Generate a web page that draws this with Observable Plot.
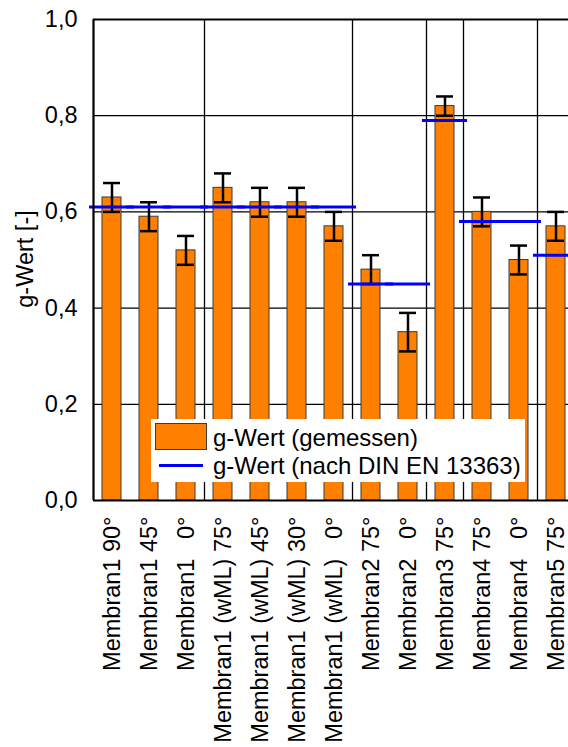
<!DOCTYPE html>
<html>
<head>
<meta charset="utf-8">
<script src="https://cdn.jsdelivr.net/npm/d3@7"></script>
<script src="https://cdn.jsdelivr.net/npm/@observablehq/plot@0.6"></script>
<style>
  html, body { margin: 0; padding: 0; background: #fff; overflow: hidden; }
  #wrap { position: relative; width: 568px; height: 747px; overflow: hidden; font-family: "Liberation Sans", Arial, sans-serif; }
  #wrap svg { color: #000; }
  #wrap svg text { white-space: pre; }
  .legend { position: absolute; left: 151px; top: 419px; width: 374px; height: 63px; background: #fff; }
  .legend .sw { position: absolute; left: 4px; top: 4px; width: 50px; height: 25px; background: #FF8000; border: 1px solid #3a3a3a; }
  .legend .ln { position: absolute; left: 8px; top: 45px; width: 44px; height: 3px; background: #0000FF; }
  .legend .t { position: absolute; left: 62px; font-size: 24px; line-height: 26px; color: #000; white-space: nowrap; }
  .ylab { position: absolute; left: 25px; top: 259px; transform: translate(-50%, -50%) rotate(-90deg); font-size: 23.5px; line-height: 26px; white-space: nowrap; color: #000; }
</style>
</head>
<body>
<div id="wrap"></div>
<script>
const categories = ["Membran1 90°", "Membran1 45°", "Membran1   0°", "Membran1 (wML) 75°", "Membran1 (wML) 45°", "Membran1 (wML) 30°", "Membran1 (wML)   0°", "Membran2 75°", "Membran2   0°", "Membran3 75°", "Membran4 75°", "Membran4   0°", "Membran5 75°"];
const measured = [0.63, 0.59, 0.52, 0.65, 0.62, 0.62, 0.57, 0.48, 0.35, 0.82, 0.60, 0.50, 0.57];
const errors   = [0.03, 0.03, 0.03, 0.03, 0.03, 0.03, 0.03, 0.03, 0.04, 0.02, 0.03, 0.03, 0.03];
const din      = [0.61, 0.61, 0.61, 0.61, 0.61, 0.61, 0.61, 0.45, 0.45, 0.79, 0.58, 0.58, 0.51];
const groupStarts = ["Membran1 (wML) 75°", "Membran2 75°", "Membran3 75°", "Membran4 75°", "Membran5 75°"];
const yTicks = [0, 0.2, 0.4, 0.6, 0.8, 1.0];
const gridTicks = [0.2, 0.4, 0.6, 0.8];
const yLabel = "g-Wert [-]";
const legendLabels = ["g-Wert (gemessen)", "g-Wert (nach DIN EN 13363)"];

const data = categories.map((c, i) => ({cat: c, val: measured[i], lo: measured[i] - errors[i], hi: measured[i] + errors[i], din: din[i]}));

const xRange = [93, 574];
const bw = (xRange[1] - xRange[0]) / categories.length;
const font = "Liberation Sans, Arial, sans-serif";

const chart = Plot.plot({
  width: 568,
  height: 747,
  marginLeft: 93,
  marginRight: 0,
  marginTop: 19,
  marginBottom: 247,
  style: {fontFamily: font, fontSize: "23.5px", color: "#000", background: "#fff"},
  x: {domain: categories, range: xRange, padding: 0},
  y: {domain: [0, 1]},
  marks: [
    Plot.ruleY(gridTicks, {stroke: "#000", strokeWidth: 1.3}),
    Plot.ruleX(groupStarts, {x: d => d, dx: -bw / 2, stroke: "#000", strokeWidth: 1.3}),
    Plot.barY(data, {x: "cat", y: "val", fill: "#FF8000", stroke: "#3a3a3a", strokeWidth: 1, insetLeft: 9, insetRight: 9}),
    Plot.ruleX(data, {x: "cat", y1: "lo", y2: "hi", stroke: "#000", strokeWidth: 2.5}),
    Plot.tickY(data, {x: "cat", y: "hi", stroke: "#000", strokeWidth: 2.5, insetLeft: 10, insetRight: 10}),
    Plot.tickY(data, {x: "cat", y: "lo", stroke: "#000", strokeWidth: 2.5, insetLeft: 10, insetRight: 10}),
    Plot.tickY(data, {x: "cat", y: "din", stroke: "#0000FF", strokeWidth: 3, insetLeft: -4, insetRight: -4}),
    Plot.ruleY([0], {stroke: "#000", strokeWidth: 2.2}),
    Plot.ruleY([1], {stroke: "#000", strokeWidth: 2.2}),
    Plot.ruleX([categories[0]], {dx: -bw / 2, stroke: "#000", strokeWidth: 2.2}),
    Plot.axisY({ticks: yTicks, tickFormat: d => d.toFixed(1).replace(".", ","), tickSize: 0, tickPadding: 16, fontSize: 23.5, label: null}),
    Plot.axisX({tickSize: 0, tickRotate: -90, tickPadding: 16, fontSize: 23.5, label: null})
  ]
});

const wrap = document.getElementById("wrap");
wrap.appendChild(chart);

const ylab = document.createElement("div");
ylab.className = "ylab";
ylab.textContent = yLabel;
wrap.appendChild(ylab);

const legend = document.createElement("div");
legend.className = "legend";
legend.innerHTML = '<div class="sw"></div><div class="t" style="top:6px">' + legendLabels[0] + '</div>' +
  '<div class="ln"></div><div class="t" style="top:34px">' + legendLabels[1] + '</div>';
wrap.appendChild(legend);
</script>
</body>
</html>
